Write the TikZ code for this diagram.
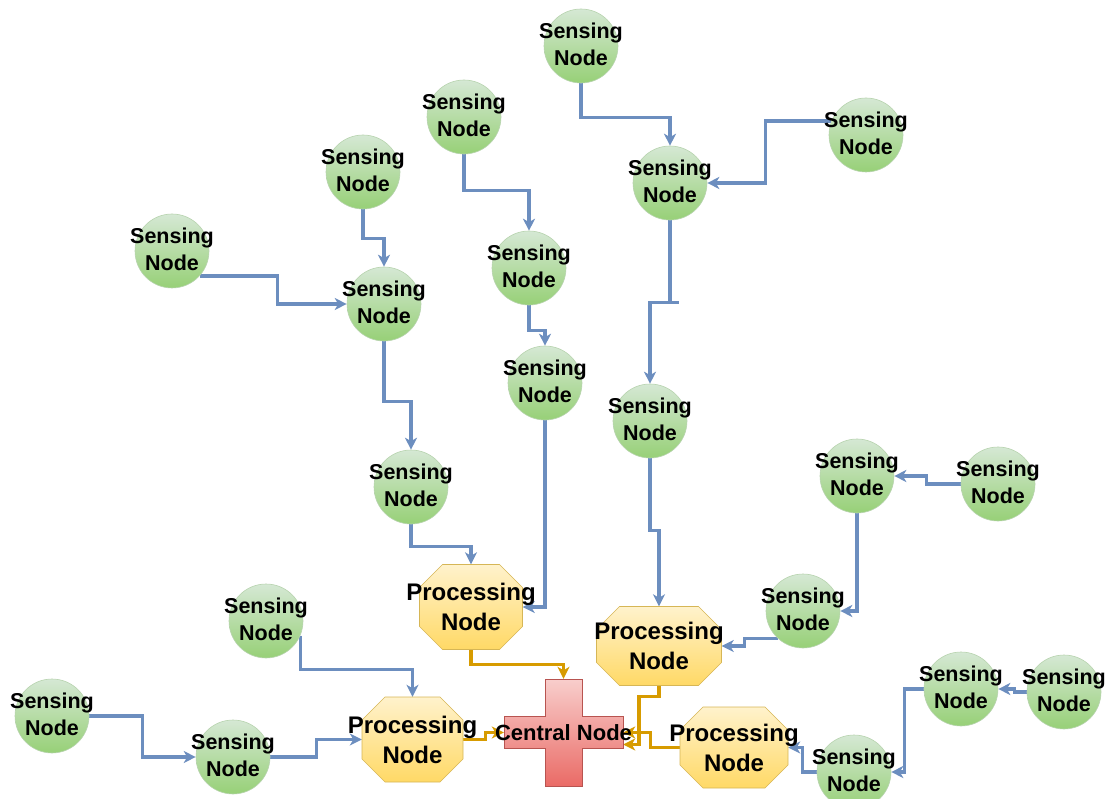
\documentclass[tikz,border=0pt]{standalone}
\usepackage{fontspec}
\setmainfont{Liberation Sans}
\usetikzlibrary{arrows.meta}
\definecolor{gtop}{HTML}{D5E8D4}
\definecolor{gbot}{HTML}{97D077}
\definecolor{gborder}{HTML}{B7D3AE}
\definecolor{ytop}{HTML}{FFF2CC}
\definecolor{ybot}{HTML}{FFD966}
\definecolor{yborder}{HTML}{D6B656}
\definecolor{rtop}{HTML}{F8CECC}
\definecolor{rbot}{HTML}{EA6B66}
\definecolor{rborder}{HTML}{B85450}
\definecolor{bluec}{HTML}{6C8EBF}
\definecolor{orangec}{HTML}{D79B00}
\pgfdeclarelayer{bg}
\pgfsetlayers{bg,main}
\tikzset{
  sensetext/.style={font=\fontsize{21.5}{27}\selectfont\bfseries, align=center, inner sep=0pt, yshift=1.5pt},
  proctext/.style={font=\fontsize{24}{30}\selectfont\bfseries, align=center, inner sep=0pt},
  centtext/.style={font=\fontsize{22}{26}\selectfont\bfseries, inner sep=0pt},
  sens/.style={circle, draw=gborder, line width=0.6pt, top color=gtop, bottom color=gbot,
    minimum size=74pt, inner sep=0pt, label={[sensetext]center:Sensing\\Node}},
  procshape/.style={draw=yborder, line width=0.6pt, top color=ytop, bottom color=ybot},
  procbox/.style={inner sep=0pt, label={[proctext]center:Processing\\Node}},
  crossshape/.style={draw=rborder, line width=0.6pt, top color=rtop, bottom color=rbot},
  bl/.style={draw=bluec, line width=3.2pt, -{Stealth[length=12pt,width=12pt,inset=3.5pt]}},
  blplain/.style={draw=bluec, line width=3.2pt},
  orl/.style={draw=orangec, line width=3.2pt, -{Stealth[length=12pt,width=12pt,inset=3.5pt]}},
}
\newcommand{\procnode}[5]{%
  \path[procshape] ({#2-#4/2+23},{#3-#5/2}) -- ({#2+#4/2-23},{#3-#5/2}) -- ({#2+#4/2},{#3-#5/2+23})
    -- ({#2+#4/2},{#3+#5/2-23}) -- ({#2+#4/2-23},{#3+#5/2}) -- ({#2-#4/2+23},{#3+#5/2})
    -- ({#2-#4/2},{#3+#5/2-23}) -- ({#2-#4/2},{#3-#5/2+23}) -- cycle;
  \node[procbox, minimum width=#4pt, minimum height=#5pt] (#1) at (#2,#3) {};
}
\begin{document}
\begin{tikzpicture}[x=1pt, y=-1pt]
\useasboundingbox (0,0) rectangle (1111,799);
\clip (0,0) rectangle (1111,799);

% sensing nodes
\node[sens] (s1) at (581,46) {};
\node[sens] (s2) at (670,183) {};
\node[sens] (s3) at (866,135) {};
\node[sens] (s4) at (464,117) {};
\node[sens] (s5) at (363,172) {};
\node[sens] (s6) at (172,251) {};
\node[sens] (s7) at (384,304) {};
\node[sens] (s8) at (529,268) {};
\node[sens] (s9) at (545,383) {};
\node[sens] (s10) at (650,421) {};
\node[sens] (s11) at (411,487) {};
\node[sens] (s12) at (857,476) {};
\node[sens] (s13) at (998,484) {};
\node[sens] (s14) at (803,611) {};
\node[sens] (s15) at (266,621) {};
\node[sens] (s16) at (52,716) {};
\node[sens] (s17) at (233,757) {};
\node[sens] (s18) at (961,689) {};
\node[sens] (s19) at (1064,692) {};
\node[sens] (s20) at (854,772) {};

% processing nodes
\procnode{p1}{471}{607}{103}{85}
\procnode{p2}{659}{646}{125}{79}
\procnode{p3}{412.5}{739.5}{101}{85}
\procnode{p4}{734}{747.5}{108}{81}

% central node
\path[crossshape] (545,679) -- (582,679) -- (582,716) -- (623,716) -- (623,748) -- (582,748)
  -- (582,786) -- (545,786) -- (545,748) -- (504,748) -- (504,716) -- (545,716) -- cycle;
\node[inner sep=0pt, minimum width=119pt, minimum height=107pt,
  label={[centtext]center:Central Node}] (c) at (563.5,732.5) {};

\begin{pgfonlayer}{bg}
% blue connectors
\draw[bl] (s1.south) -- ++(0,34) -| (s2.north);
\draw[bl] (s3.158) -- ++(-66,0) |- (s2.east);
\draw[bl] (s2.south) -- ++(0,82) coordinate (k) -| (s10.north);
\draw[blplain] (k) -- ++(9,0);
\draw[bl] (s10.south) -- ++(0,72) -| (p2.north);
\draw[bl] (s4.south) -- ++(0,36) -| (s8.north);
\draw[bl] (s8.south) -- ++(0,25) -| (s9.north);
\draw[bl] (s9.south) |- (p1.east);
\draw[bl] (s5.south) -- ++(0,29) -| (s7.north);
\draw[bl] (s6.-42) -- ++(78,0) |- (s7.west);
\draw[bl] (s7.south) -- ++(0,60) -| (s11.north);
\draw[bl] (s11.south) -- ++(0,22) -| (p1.north);
\draw[bl] (s13.west) -- ++(-34,0) |- (s12.east);
\draw[bl] (s12.south) |- (s14.east);
\draw[bl] (s14.-133) -- ++(-33,0) |- (p2.east);
\draw[bl] (s15.-23) -- ++(0,34) -| (p3.north);
\draw[bl] (s16.east) -- ++(53,0) |- (s17.west);
\draw[bl] (s17.east) -- ++(46,0) |- (p3.west);
\draw[bl] (s19.west) -- ++(-12,0) |- (s18.east);
\draw[bl] (s18.west) -- ++(-19,0) |- (s20.east);
\draw[bl] (s20.west) -- ++(-14,0) |- (p4.east);
% orange connectors
\draw[orl] (p1.south) -- ++(0,15) -| (c.north);
\draw[orl] (p2.south) -- ++(0,11) -- ++(-20,0) |- ([yshift=-12pt]c.east);
\draw[orl] (p3.east) -- ++(22,0) |- (c.west);
\draw[orl] (p4.west) -- ++(-29,0) |- (c.east);
\end{pgfonlayer}
\end{tikzpicture}
\end{document}
